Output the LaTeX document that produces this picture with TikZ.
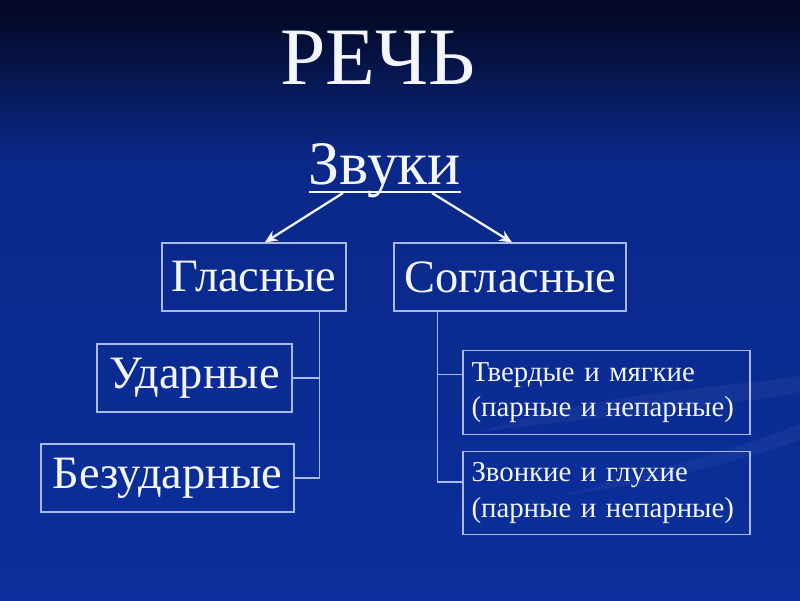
\documentclass[tikz,border=0pt]{standalone}
\usepackage{fontspec}
\setmainfont{Liberation Serif}
\usetikzlibrary{positioning,calc,arrows.meta}

\definecolor{bgtop}{HTML}{040A28}
\definecolor{bgmid}{HTML}{0A2888}
\definecolor{bgbot}{HTML}{0B2F9C}
\definecolor{edgeblue}{HTML}{A9BAEA}
\definecolor{ink}{HTML}{F3F5FF}

\tikzset{
  box/.style={draw=edgeblue, line width=0.8pt, text=ink, inner sep=0pt,
    font=\fontsize{33}{38}\selectfont},
  smallbox/.style={box, minimum width=7.175cm, minimum height=2.08cm,
    text width=6.75cm, align=left, font=\fontsize{20.5}{25}\selectfont},
  wire/.style={draw=edgeblue, line width=0.8pt},
  arr/.style={draw=ink, line width=1.6pt, -{Stealth[length=9pt,width=8pt]}}
}

\begin{document}
\begin{tikzpicture}
        % background
        \fill[bgtop] (0,14.6) rectangle (20,15);
        \shade[top color=bgtop, bottom color=bgmid] (0,11) rectangle (20,14.6);
        \shade[top color=bgmid, bottom color=bgbot] (0,0) rectangle (20,11);
        \fill[white, opacity=0.04] (12,4.2) .. controls (15,5.2) and (18,5.3) .. (20,5.6)
            -- (20,5.2) .. controls (18,4.8) and (15,4.6) .. cycle;
        \fill[white, opacity=0.04] (14,2.6) .. controls (16,3.2) and (18,3.6) .. (20,4.4)
            -- (20,4.0) .. controls (18,3.3) and (16,2.9) .. cycle;
        \useasboundingbox (0,0) rectangle (20,15);

        % titles
        \node[text=ink, anchor=base, font=\fontsize{58}{62}\selectfont]
            (rech) at (9.45,12.875) {РЕЧЬ};
        \node[text=ink, anchor=base, inner sep=0pt, font=\fontsize{44}{48}\selectfont]
            (zvuki) at (9.625,10.375) {Звуки};
        \draw[ink, line width=1.4pt] ([yshift=-5pt]zvuki.base west) -- ([yshift=-5pt]zvuki.base east);

        % boxes
        \node[box, minimum width=4.6cm, minimum height=1.7cm] (glas) at (6.35,8.075) {Гласные};
        \node[box, minimum width=5.8cm, minimum height=1.7cm] (sogl) at (12.75,8.075) {Согласные};
        \node[box, minimum width=4.875cm, minimum height=1.7cm] (udar) at (4.8625,5.55) {Ударные};
        \node[box, minimum width=6.325cm, minimum height=1.7cm] (bezud) at (4.1875,3.05) {Безударные};
        \node[smallbox] (tverd) at (15.1625,5.1875) {Твердые и мягкие\\(парные и непарные)};
        \node[smallbox] (zvon) at (15.1625,2.675) {Звонкие и глухие\\(парные и непарные)};

        % arrows
        \coordinate (zl) at (8.575,10.175);
        \coordinate (zr) at (10.8,10.175);
        \draw[arr] (zl) -- ([xshift=0.27cm]glas.north);
        \draw[arr] (zr) -- ([xshift=0.05cm]sogl.north);

        % branches
        \coordinate (tin) at ([yshift=0.44cm]tverd.west);
        \coordinate (zin) at ([yshift=0.275cm]zvon.west);
        \draw[wire] ([xshift=-0.675cm]glas.south east) coordinate (gv) |- (bezud.east);
        \draw[wire] (gv |- udar.east) -- (udar.east);
        \draw[wire] ([xshift=1.1cm]sogl.south west) coordinate (sv) |- (zin);
        \draw[wire] (sv |- tin) -- (tin);
    \end{tikzpicture}
\end{document}
